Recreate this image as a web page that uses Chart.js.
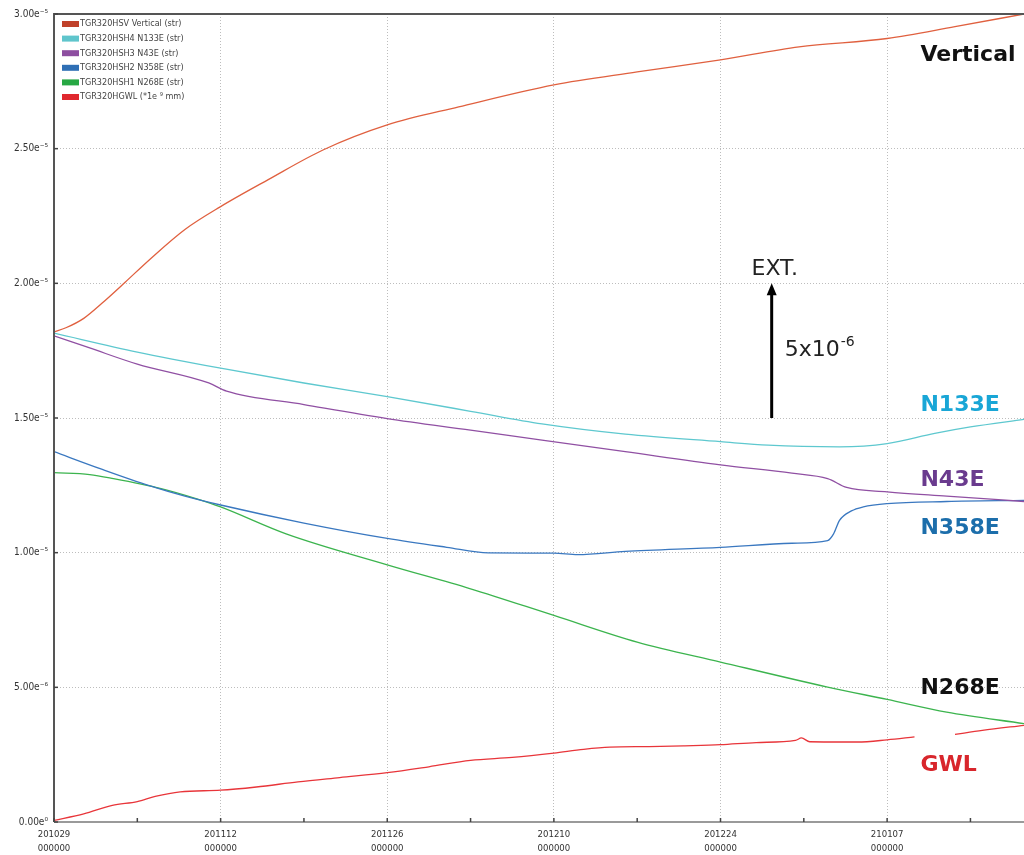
<!DOCTYPE html>
<html>
<head>
<meta charset="utf-8">
<script src="https://cdn.jsdelivr.net/npm/chart.js@4"></script>
<style>body{margin:0;background:#fff}</style>
</head>
<body>
<canvas id="chart" width="1024" height="855"></canvas>
<script>
// x = days from 2020-10-29, y = strain in units of 1e-5
const xTickDays = [0, 14, 28, 42, 56, 70]
const xTickDates = ['201029', '201112', '201126', '201210', '201224', '210107']
const yTickLabels = ['0.00e\u2070', '5.00e\u207b\u2076', '1.00e\u207b\u2075', '1.50e\u207b\u2075', '2.00e\u207b\u2075', '2.50e\u207b\u2075', '3.00e\u207b\u2075']

const verticalDays = [0, 1, 2.5, 4, 6, 8, 11, 14, 18, 22.6, 28, 34, 42, 49, 56, 62.6, 70, 75.7, 81.5]
const verticalVals = [1.82, 1.835, 1.87, 1.925, 2.005, 2.087, 2.2, 2.285, 2.385, 2.495, 2.588, 2.655, 2.737, 2.785, 2.83, 2.878, 2.909, 2.953, 3.0]

const n133eDays = [0, 7, 14, 21, 28, 35, 41, 48, 56, 60, 66, 70, 74, 77, 81.5]
const n133eVals = [1.815, 1.745, 1.685, 1.63, 1.579, 1.525, 1.478, 1.44, 1.412, 1.399, 1.393, 1.405, 1.443, 1.467, 1.495]

const n43eDays = [0, 3, 7, 13, 14.5, 21, 28, 35, 41, 48, 56, 62, 65, 66.6, 70, 75, 81.5]
const n43eVals = [1.805, 1.76, 1.7, 1.63, 1.6, 1.55, 1.498, 1.455, 1.418, 1.375, 1.326, 1.295, 1.275, 1.242, 1.226, 1.21, 1.19]

const n358eDays = [0, 4, 8, 11, 14, 21, 28, 33, 36.5, 42, 44, 48, 56, 62, 65, 65.5, 66, 67, 68, 70, 75, 81.5]
const n358eVals = [1.375, 1.31, 1.249, 1.21, 1.177, 1.11, 1.053, 1.02, 0.999, 0.998, 0.993, 1.005, 1.02, 1.035, 1.045, 1.07, 1.12, 1.155, 1.17, 1.182, 1.19, 1.194]

const n268eDays = [0, 3, 5, 9, 12, 14, 19.5, 28, 35, 42, 49, 56, 65, 70, 75, 81.5]
const n268eVals = [1.297, 1.29, 1.275, 1.238, 1.2, 1.17, 1.07, 0.955, 0.866, 0.767, 0.668, 0.594, 0.501, 0.455, 0.408, 0.365]

// GWL has a gap (null) around 210110-210113
const gwlDays = [0, 2.5, 4.9, 7, 8.5, 10.6, 14, 17, 20.5, 24, 28, 31.5, 35, 38.5, 42, 44.5, 46.7, 50, 53, 56, 59, 62.3, 62.8, 63.5, 67.5, 70, 72.3, 73, 75.7, 78, 81.5]
const gwlVals = [0.006, 0.03, 0.062, 0.076, 0.095, 0.112, 0.118, 0.13, 0.149, 0.165, 0.183, 0.205, 0.229, 0.24, 0.256, 0.27, 0.278, 0.28, 0.283, 0.287, 0.295, 0.303, 0.312, 0.298, 0.297, 0.305, 0.316, null, 0.325, 0.34, 0.359]

const seriesNames = ['TGR320HSV Vertical (str)', 'TGR320HSH4 N133E (str)', 'TGR320HSH3 N43E (str)', 'TGR320HSH2 N358E (str)', 'TGR320HSH1 N268E (str)', 'TGR320HGWL (*1e \u2079 mm)']
const lineColors = ['#e0603f', '#5ec8cf', '#9050a3', '#3a78c0', '#3cb44e', '#e8353a']
const swatchColors = ['#c0412a', '#5fc5cc', '#8d4ea0', '#2f6fb5', '#27a844', '#e0282e']

// 右側のラベル
const sideLabels = [
  { text: 'Vertical', color: '#111111', y: 2.848 },
  { text: 'N133E', color: '#19a6d6', y: 1.548 },
  { text: 'N43E', color: '#6a3b8e', y: 1.27 },
  { text: 'N358E', color: '#1c6eab', y: 1.092 },
  { text: 'N268E', color: '#111111', y: 0.498 },
  { text: 'GWL', color: '#d8262c', y: 0.212 },
]

const toPoints = (xs, ys) => xs.map((x, i) => ({ x: x, y: ys[i] }))
const allDays = [verticalDays, n133eDays, n43eDays, n358eDays, n268eDays, gwlDays]
const allVals = [verticalVals, n133eVals, n43eVals, n358eVals, n268eVals, gwlVals]

const smallFont = '"DejaVu Sans Condensed", "Liberation Sans Narrow", "DejaVu Sans", sans-serif'

// 枠線、目盛、凡例、注釈
const overlay = {
  id: 'overlay',
  afterDatasetsDraw(chart) {
    const ctx = chart.ctx
    const a = chart.chartArea
    const xs = chart.scales.x
    const ys = chart.scales.y
    ctx.save()
    // frame
    ctx.strokeStyle = '#555'
    ctx.lineWidth = 2
    ctx.beginPath()
    ctx.moveTo(a.left, a.bottom)
    ctx.lineTo(a.left, a.top)
    ctx.lineTo(a.right, a.top)
    ctx.stroke()
    ctx.strokeStyle = '#9a9a9a'
    ctx.beginPath()
    ctx.moveTo(a.left, a.bottom)
    ctx.lineTo(a.right, a.bottom)
    ctx.stroke()
    // inner ticks
    ctx.strokeStyle = '#444'
    ctx.lineWidth = 1.5
    for (let d = 0; d <= 77; d += 7) {
      const x = xs.getPixelForValue(d)
      ctx.beginPath()
      ctx.moveTo(x, a.bottom)
      ctx.lineTo(x, a.bottom - 4)
      ctx.stroke()
    }
    for (let v = 0; v <= 3; v += 0.5) {
      const y = ys.getPixelForValue(v)
      ctx.beginPath()
      ctx.moveTo(a.left, y)
      ctx.lineTo(a.left + 4, y)
      ctx.stroke()
    }
    // legend
    ctx.font = '9px ' + smallFont
    ctx.textBaseline = 'middle'
    ctx.textAlign = 'left'
    chart.data.datasets.forEach((ds, i) => {
      const y = a.top + 10 + i * 14.6
      ctx.fillStyle = swatchColors[i]
      ctx.fillRect(a.left + 8, y - 3, 17, 6)
      ctx.fillStyle = '#444'
      ctx.fillText(ds.label, a.left + 26, y)
    })
    // side labels
    ctx.font = 'bold 22px "DejaVu Sans", sans-serif'
    sideLabels.forEach((l) => {
      ctx.fillStyle = l.color
      ctx.fillText(l.text, xs.getPixelForValue(72.8), ys.getPixelForValue(l.y))
    })
    // EXT arrow
    const ax = xs.getPixelForValue(60.3)
    const y1 = ys.getPixelForValue(1.5)
    const y2 = ys.getPixelForValue(2.0)
    ctx.strokeStyle = '#000'
    ctx.fillStyle = '#000'
    ctx.lineWidth = 3
    ctx.beginPath()
    ctx.moveTo(ax, y1)
    ctx.lineTo(ax, y2 + 8)
    ctx.stroke()
    ctx.beginPath()
    ctx.moveTo(ax, y2)
    ctx.lineTo(ax - 5, y2 + 12)
    ctx.lineTo(ax + 5, y2 + 12)
    ctx.closePath()
    ctx.fill()
    ctx.fillStyle = '#222'
    ctx.font = '22px "DejaVu Sans", sans-serif'
    ctx.textAlign = 'center'
    ctx.fillText('EXT.', ax + 3, y2 - 14)
    ctx.textAlign = 'left'
    const ty = ys.getPixelForValue(1.75)
    ctx.fillText('5x10', ax + 13, ty)
    const w = ctx.measureText('5x10').width
    ctx.font = '14px "DejaVu Sans", sans-serif'
    ctx.fillText('-6', ax + 14 + w, ty - 8)
    ctx.restore()
  },
}

const ctx = document.getElementById('chart').getContext('2d')
const chart = new Chart(ctx, {
  type: 'line',
  data: {
    datasets: seriesNames.map((name, i) => ({
      label: name,
      data: toPoints(allDays[i], allVals[i]),
      borderColor: lineColors[i],
      borderWidth: 1.3,
      pointRadius: 0,
      cubicInterpolationMode: 'monotone',
      spanGaps: false,
    })),
  },
  options: {
    responsive: false,
    animation: false,
    devicePixelRatio: 1,
    layout: { padding: { top: 14, right: 0, left: 0, bottom: 0 } },
    plugins: { legend: { display: false }, tooltip: { enabled: false } },
    scales: {
      x: {
        type: 'linear',
        min: 0,
        max: 81.5,
        afterBuildTicks: (scale) => {
          scale.ticks = xTickDays.map((d) => ({ value: d }))
        },
        afterFit: (scale) => {
          scale.height = 33
        },
        ticks: {
          autoSkip: false,
          maxRotation: 0,
          padding: 5,
          color: '#333',
          font: { size: 9.5, family: smallFont, lineHeight: 1.5 },
          callback: (v) => {
            const i = xTickDays.indexOf(v)
            return i < 0 ? '' : [xTickDates[i], '000000']
          },
        },
        grid: { color: '#bdbdbd', lineWidth: 1, drawTicks: false },
        border: { display: false, dash: [1, 2] },
      },
      y: {
        min: 0,
        max: 3,
        afterBuildTicks: (scale) => {
          scale.ticks = yTickLabels.map((t, i) => ({ value: i * 0.5 }))
        },
        afterFit: (scale) => {
          scale.width = 54
        },
        ticks: {
          padding: 6,
          color: '#333',
          font: { size: 10, family: smallFont },
          callback: (v, i) => yTickLabels[i],
        },
        grid: { color: '#bdbdbd', lineWidth: 1, drawTicks: false },
        border: { display: false, dash: [1, 2] },
      },
    },
  },
  plugins: [overlay],
})
</script>
</body>
</html>
